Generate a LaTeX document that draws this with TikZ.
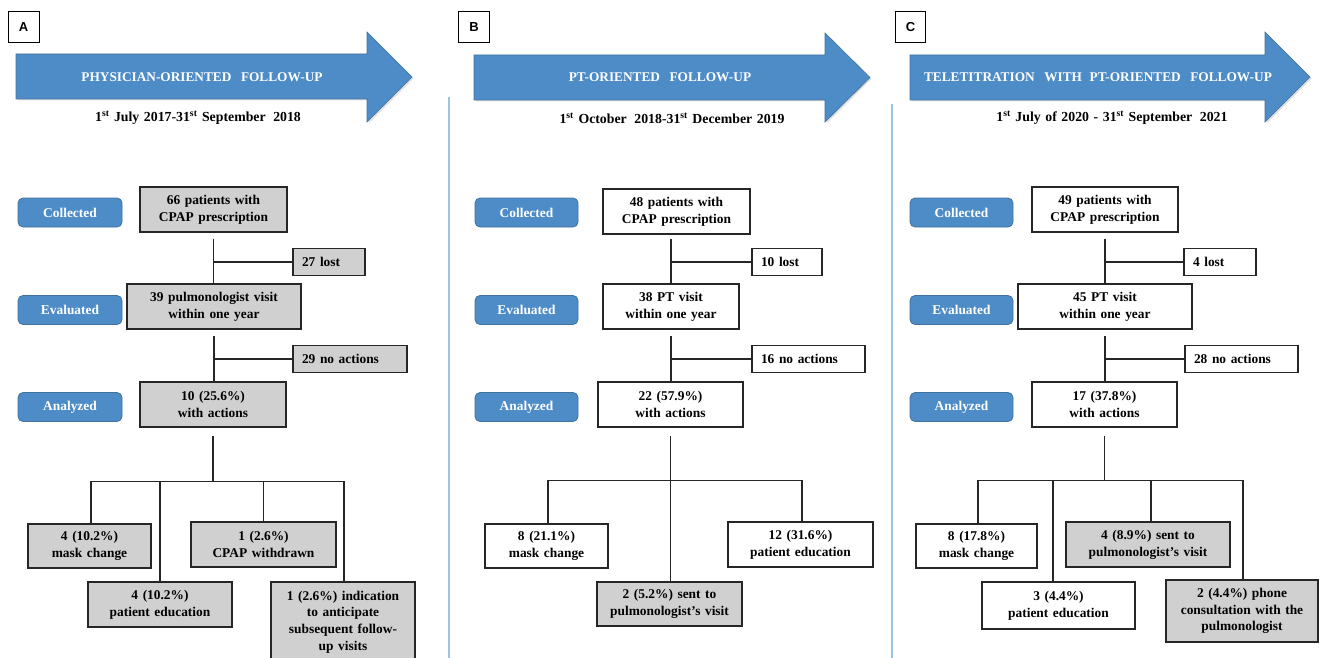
\documentclass[tikz,border=0pt]{standalone}
\usepackage{fontspec}
\setmainfont{Liberation Serif}
\newfontfamily\labelfont{Liberation Sans}
\usetikzlibrary{calc,shadows}
\definecolor{hdrblue}{HTML}{4D8CC7}
\definecolor{hdredge}{HTML}{41719C}
\definecolor{boxgray}{HTML}{D0D0D0}
\definecolor{seplight}{HTML}{9DC3E6}
\begin{document}
\begin{tikzpicture}[x=1pt,y=-1pt,
  font=\bfseries\fontsize{13.4}{16.8}\selectfont,
  execute at begin node={\spaceskip=4.6pt plus 1pt\relax},
  flowbox/.style={draw=black!85, line width=1.3pt, align=center, inner sep=2pt},
  whitebox/.style={flowbox, fill=white},
  graybox/.style={flowbox, fill=boxgray},
  sidebox/.style={draw=black!85, line width=1.3pt, fill=white, text width=#1, align=left, inner xsep=9pt, inner ysep=2pt, minimum height=27pt},
  graysidebox/.style={sidebox=#1, fill=boxgray},
  pill/.style={rounded corners=5pt, fill=hdrblue, draw=hdredge, line width=0.8pt, text=white, minimum width=104pt, minimum height=29pt, inner sep=0pt},
  conn/.style={draw=black!85, line width=1.5pt},
  panellabel/.style={draw=black, line width=1pt, minimum width=31pt, minimum height=31pt, inner sep=0pt, font=\labelfont\bfseries\fontsize{13}{13}\selectfont},
  hdrarrow/.style={fill=hdrblue, draw=hdredge, line width=0.6pt, drop shadow={opacity=0.25, shadow xshift=1.5pt, shadow yshift=-1.5pt}},
  hdrtext/.style={text=white, inner sep=0pt, font=\bfseries\fontsize{13.3}{15}\selectfont},
  datetext/.style={inner sep=0pt, font=\bfseries\fontsize{13.8}{16}\selectfont},
  sep/.style={draw=seplight, line width=1.3pt}
]
\useasboundingbox (0,0) rectangle (1319,658);

% separators
\draw[sep] (449,97) -- (449,658);
\draw[sep] (892,104) -- (892,658);

% ================= Panel A =================
\node[panellabel] (labA) at (23.5,27.5) {A};
\draw[hdrarrow] (16,54) -- (367,54) -- (367,32) -- (412,77) -- (367,122) -- (367,99) -- (16,99) -- cycle;
\node[hdrtext] (ttlA) at (202,77) {PHYSICIAN-ORIENTED\hspace{5pt} FOLLOW-UP};
\node[datetext] (dateA) at (198,118) {1\textsuperscript{st} July 2017-31\textsuperscript{st} September\hspace{3pt} 2018};

\node[pill] (colA) at (70,212.5) {Collected};
\node[pill] (evaA) at (70,310) {Evaluated};
\node[pill] (anaA) at (70,407) {Analyzed};

\node[graybox, minimum width=147pt, minimum height=45pt] (A1) at (213.5,209.5) {66 patients with\\CPAP prescription};
\node[graysidebox=54pt] (lostA) at (329,262) {27 lost};
\node[graybox, minimum width=174pt, minimum height=45pt] (A2) at (214,306.5) {39 pulmonologist visit\\within one year};
\node[graysidebox=96pt] (noA) at (350,359) {29 no actions};
\node[graybox, minimum width=146pt, minimum height=45pt] (A3) at (213,404.5) {10 (25.6\%)\\with actions};
\node[graybox, minimum width=123pt, minimum height=44pt] (A4) at (89.5,546) {4 (10.2\%)\\mask change};
\node[graybox, minimum width=144pt, minimum height=45pt] (A5) at (160,604.5) {4 (10.2\%)\\patient education};
\node[graybox, minimum width=145pt, minimum height=45pt] (A6) at (263.5,544.5) {1 (2.6\%)\\CPAP withdrawn};
\node[graybox, minimum width=144pt, minimum height=80pt] (A7) at (343,622) {1 (2.6\%) indication\\to anticipate\\subsequent follow-\\up visits};

\coordinate (a1s) at ([yshift=-6pt]A1.south);
\coordinate (a2s) at ([yshift=-6pt]A2.south);
\coordinate (a3s) at ([yshift=-8pt]A3.south);
\coordinate (barA) at ([yshift=-54pt]A3.south);
\draw[conn] (a1s) -- (a1s |- A2.north);
\draw[conn] (lostA.west) -- (lostA.west -| a1s);
\draw[conn] (a2s) -- (a2s |- A3.north);
\draw[conn] (noA.west) -- (noA.west -| a2s);
\draw[conn] (a3s) -- (barA);
\draw[conn] ([xshift=1.5pt]A4.north) |- (barA);
\draw[conn] (A5.north) |- (barA);
\draw[conn] (A6.north) |- (barA);
\draw[conn] ([xshift=1pt]A7.north) |- (barA);

% ================= Panel B =================
\node[panellabel] (labB) at (474,27.5) {B};
\draw[hdrarrow] (474,55) -- (825,55) -- (825,33) -- (870,77.5) -- (825,122) -- (825,100) -- (474,100) -- cycle;
\node[hdrtext] (ttlB) at (660,77.5) {PT-ORIENTED\hspace{5pt} FOLLOW-UP};
\node[datetext] (dateB) at (672,118) {1\textsuperscript{st} October\hspace{3pt} 2018-31\textsuperscript{st} December 2019};

\node[pill, minimum width=103pt] (colB) at (526.5,212.5) {Collected};
\node[pill, minimum width=103pt] (evaB) at (526.5,310) {Evaluated};
\node[pill, minimum width=103pt] (anaB) at (526.5,407) {Analyzed};

\node[whitebox, minimum width=147pt, minimum height=45pt] (B1) at (676.5,211.5) {48 patients with\\CPAP prescription};
\node[sidebox=52pt] (lostB) at (787,262) {10 lost};
\node[whitebox, minimum width=136pt, minimum height=45pt] (B2) at (671,306.5) {38 PT visit\\within one year};
\node[sidebox=95pt] (noB) at (808.5,359) {16 no actions};
\node[whitebox, minimum width=145pt, minimum height=45pt] (B3) at (670.5,404.5) {22 (57.9\%)\\with actions};
\node[whitebox, minimum width=123pt, minimum height=44pt] (B4) at (546.5,546) {8 (21.1\%)\\mask change};
\node[whitebox, minimum width=145pt, minimum height=45pt] (B5) at (800.5,544.5) {12 (31.6\%)\\patient education};
\node[graybox, minimum width=145pt, minimum height=44pt] (B6) at (669.5,604) {2 (5.2\%) sent to\\pulmonologist’s visit};

\coordinate (b1s) at ([yshift=-4pt]B1.south);
\coordinate (b2s) at ([yshift=-6pt]B2.south);
\coordinate (b3s) at ([yshift=-8pt]B3.south);
\coordinate (barB) at ([yshift=-53pt]B3.south);
\draw[conn] (b1s -| B2.north) -- (B2.north);
\draw[conn] (lostB.west) -- (lostB.west -| B2.north);
\draw[conn] (b2s) -- (b2s |- B3.north);
\draw[conn] (noB.west) -- (noB.west -| b2s);
\draw[conn] (b3s) -- (b3s |- B6.north);
\draw[conn] ([xshift=1.5pt]B4.north) |- (barB);
\draw[conn] ([xshift=1.5pt]B5.north) |- (barB);

% ================= Panel C =================
\node[panellabel, minimum width=30pt] (labC) at (910.5,27.5) {C};
\draw[hdrarrow] (910,55) -- (1265,55) -- (1265,32) -- (1310,77) -- (1265,122) -- (1265,100) -- (910,100) -- cycle;
\node[hdrtext] (ttlC) at (1098,77) {TELETITRATION\hspace{5pt} WITH\hspace{3pt} PT-ORIENTED\hspace{5pt} FOLLOW-UP};
\node[datetext] (dateC) at (1112,118) {1\textsuperscript{st} July of 2020 - 31\textsuperscript{st} September\hspace{3pt} 2021};

\node[pill, minimum width=103pt] (colC) at (961.5,212.5) {Collected};
\node[pill, minimum width=103pt] (evaC) at (961.5,310) {Evaluated};
\node[pill, minimum width=103pt] (anaC) at (961.5,407) {Analyzed};

\node[whitebox, minimum width=146pt, minimum height=45pt] (C1) at (1105,209.5) {49 patients with\\CPAP prescription};
\node[sidebox=54pt] (lostC) at (1220,262) {4 lost};
\node[whitebox, minimum width=174pt, minimum height=45pt] (C2) at (1105,306.5) {45 PT visit\\within one year};
\node[sidebox=95pt] (noC) at (1241.5,359) {28 no actions};
\node[whitebox, minimum width=145pt, minimum height=45pt] (C3) at (1104.5,404.5) {17 (37.8\%)\\with actions};
\node[whitebox, minimum width=121pt, minimum height=44pt] (C4) at (976.5,546) {8 (17.8\%)\\mask change};
\node[whitebox, minimum width=153pt, minimum height=47pt] (C5) at (1058.5,605.5) {3 (4.4\%)\\patient education};
\node[graybox, minimum width=164pt, minimum height=45pt] (C6) at (1148,544.5) {4 (8.9\%) sent to\\pulmonologist’s visit};
\node[graybox, minimum width=152pt, minimum height=62pt] (C7) at (1242,611) {2 (4.4\%) phone\\consultation with the\\pulmonologist};

\coordinate (c1s) at ([yshift=-6pt]C1.south);
\coordinate (c2s) at ([yshift=-6pt]C2.south);
\coordinate (c3s) at ([yshift=-8pt]C3.south);
\coordinate (barC) at ([yshift=-53pt]C3.south);
\draw[conn] (c1s) -- (c1s |- C2.north);
\draw[conn] (lostC.west) -- (lostC.west -| c1s);
\draw[conn] (c2s) -- (c2s |- C3.north);
\draw[conn] (noC.west) -- (noC.west -| c2s);
\draw[conn] (c3s) -- (barC);
\draw[conn] ([xshift=1.5pt]C4.north) |- (barC);
\draw[conn] ([xshift=-5.5pt]C5.north) |- (barC);
\draw[conn] ([xshift=3pt]C6.north) |- (barC);
\draw[conn] ([xshift=1pt]C7.north) |- (barC);
\end{tikzpicture}
\end{document}
